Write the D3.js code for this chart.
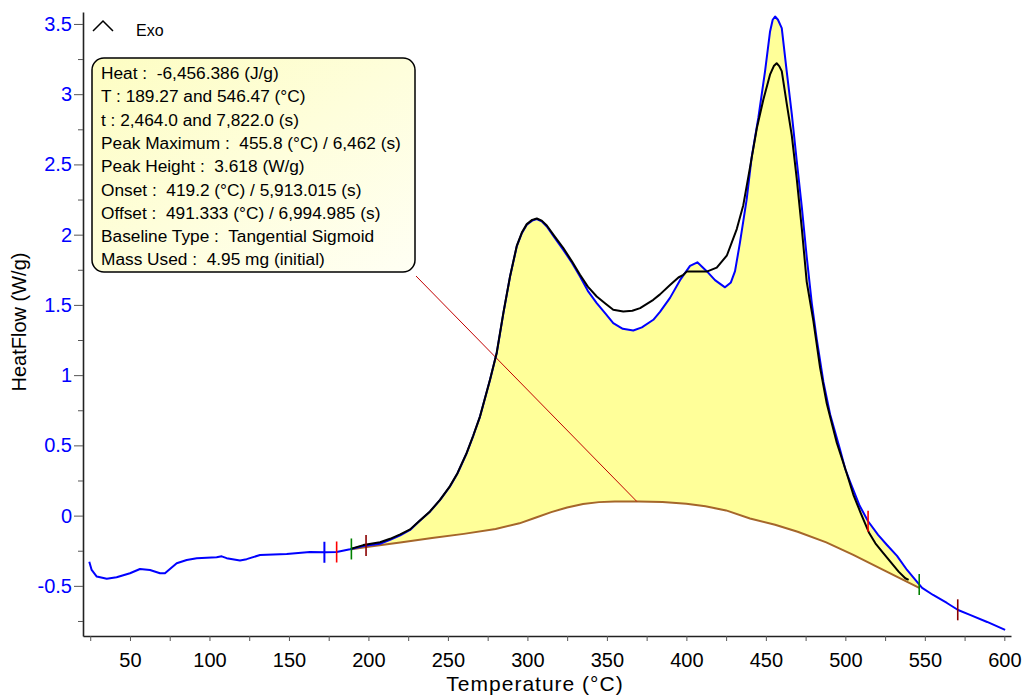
<!DOCTYPE html>
<html>
<head>
<meta charset="utf-8">
<script src="https://cdn.jsdelivr.net/npm/d3@7"></script>
<style>
  html, body { margin: 0; padding: 0; background: #ffffff; }
  svg { display: block; font-family: "Liberation Sans", Arial, sans-serif; }
</style>
</head>
<body>
<svg id="chart" width="1023" height="695"></svg>
<script>
// Measured heat flow (W/g) against temperature (°C)
const heatFlow = [
  [24.4,-0.328],[25.9,-0.387],[29.1,-0.434],[35.4,-0.449],[41.6,-0.439],[50,-0.41],
  [56.3,-0.38],[62.6,-0.387],[68.9,-0.41],[72,-0.41],[79.4,-0.339],[85.7,-0.316],
  [92,-0.303],[104.5,-0.296],[107.7,-0.29],[110.8,-0.303],[119.2,-0.32],[123.4,-0.31],
  [131.8,-0.28],[148.6,-0.273],[163.2,-0.259],[172.7,-0.261],[180,-0.259],[188.4,-0.24],
  [196.8,-0.216],[207.3,-0.2],[213.6,-0.173],[220,-0.14],[226.2,-0.102],[232,-0.04],
  [238.7,0.028],[245,0.11],[251.3,0.207],[256,0.3],[261.8,0.444],[266,0.57],[270.2,0.705],
  [276.5,0.967],[280.7,1.157],[284.9,1.442],[289.1,1.702],[293.3,1.916],[296.5,2.01],
  [299.6,2.071],[303,2.1],[305.9,2.111],[309,2.095],[312.2,2.058],[317,1.98],[322.6,1.892],
  [328,1.8],[333.1,1.702],[338,1.6],[343.6,1.513],[349,1.44],[354,1.37],[360,1.33],
  [366.6,1.318],[372,1.34],[379.2,1.394],[383.4,1.45],[389.7,1.55],[396,1.676],[402.3,1.778],
  [406.9,1.803],[412.8,1.74],[418,1.676],[424.3,1.625],[428,1.66],[430.6,1.74],[433.7,1.943],
  [437.9,2.249],[441.1,2.554],[445.3,2.834],[449.5,3.164],[452.6,3.444],[454.3,3.53],
  [455.8,3.553],[457.6,3.53],[460,3.47],[463.1,3.164],[466.3,2.859],[469.4,2.528],
  [472.6,2.198],[475.7,1.842],[478.9,1.511],[482,1.256],[486.2,0.951],[490.4,0.722],
  [496.7,0.468],[500,0.33],[503,0.24],[509,0.07],[514.3,-0.04],[520.6,-0.137],[526.2,-0.209],
  [532.5,-0.287],[538.8,-0.387],[545.1,-0.472],[548.3,-0.515],[555.2,-0.565],[563.9,-0.622],
  [570.9,-0.672],[578.4,-0.707],[589.2,-0.757],[600.5,-0.814]
];

// Second recorded signal over the integration window
const fittedSignal = [
  [189.3,-0.235],[196.8,-0.21],[207.3,-0.19],[213.6,-0.165],[220,-0.133],[226.2,-0.098],
  [232,-0.038],[238.7,0.03],[245,0.112],[251.3,0.21],[256,0.302],[261.8,0.446],[266,0.572],
  [270.2,0.707],[276.5,0.969],[280.7,1.16],[284.9,1.445],[289.1,1.705],[293.3,1.92],
  [296.5,2.015],[299.6,2.075],[303,2.105],[305.9,2.115],[309,2.1],[312.2,2.065],[317,1.99],
  [322.6,1.905],[328,1.81],[333.1,1.715],[338,1.63],[343.6,1.56],[349,1.51],[354,1.465],
  [360.3,1.453],[366,1.458],[370.9,1.477],[379.2,1.536],[383.4,1.575],[389.7,1.641],
  [395,1.695],[398.1,1.714],[400.2,1.737],[412.8,1.737],[419.1,1.765],[425.4,1.85],
  [431.7,2.04],[435.8,2.21],[440,2.477],[444.3,2.757],[448.4,2.961],[452.6,3.139],
  [455,3.2],[456.8,3.22],[458.4,3.2],[460,3.164],[463.1,2.935],[466.3,2.707],[469.4,2.401],
  [472.6,2.045],[475.7,1.664],[479.9,1.384],[484.1,1.053],[488.3,0.798],[494.6,0.519],
  [500.9,0.3],[505,0.15],[509.6,0.02],[514.8,-0.12],[518.9,-0.197],[523.1,-0.256],
  [528.3,-0.328],[533.5,-0.399],[537.7,-0.446],[539.8,-0.458]
];

// Tangential sigmoid baseline between the integration limits
const sigmoidBaseline = [
  [189.27,-0.24],[200,-0.222],[220,-0.192],[240,-0.16],[260,-0.13],[280,-0.095],
  [295,-0.055],[305,-0.015],[315,0.025],[325,0.058],[335,0.082],[345,0.096],[355,0.101],
  [370,0.101],[385,0.097],[400,0.085],[412,0.066],[425,0.037],[440,-0.02],[455.8,-0.065],
  [470,-0.115],[488,-0.19],[505,-0.28],[526,-0.399],[546.47,-0.515]
];

const integrationLimits = [189.27, 546.47];
const leaderTemp = 368.8;

// Analysis markers along the measured curve
const markerTemps = [172.3, 180, 189.27, 198.5, 514.3, 546.47, 570.7];
const markerKinds = ["range", "tangent", "limit", "fit", "tangent", "limit", "fit"];

const xTickValues = [50,100,150,200,250,300,350,400,450,500,550,600];
const xMinorValues = [25,75,125,175,225,275,325,375,425,475,525,575];
const yTickValues = [-0.5,0,0.5,1,1.5,2,2.5,3,3.5];
const yMinorValues = [-0.75,-0.25,0.25,0.75,1.25,1.75,2.25,2.75,3.25];

const resultLines = [
  "Heat :  -6,456.386 (J/g)",
  "T : 189.27 and 546.47 (°C)",
  "t : 2,464.0 and 7,822.0 (s)",
  "Peak Maximum :  455.8 (°C) / 6,462 (s)",
  "Peak Height :  3.618 (W/g)",
  "Onset :  419.2 (°C) / 5,913.015 (s)",
  "Offset :  491.333 (°C) / 6,994.985 (s)",
  "Baseline Type :  Tangential Sigmoid",
  "Mass Used :  4.95 mg (initial)"
];

const markerColor = d3.scaleOrdinal()
  .domain(["range", "tangent", "limit", "fit"])
  .range(["#0000ff", "#ff0000", "#008000", "#8b0000"]);

const svg = d3.select("#chart");

const x = d3.scaleLinear().domain([20.45, 604.2]).range([83, 1011]);
const y = d3.scaleLinear().domain([-0.857, 3.585]).range([636, 12]);

// linear lookup of the measured curve
function heatAt(t) {
  const i = d3.bisector(d => d[0]).left(heatFlow, t);
  if (i <= 0) return heatFlow[0][1];
  if (i >= heatFlow.length) return heatFlow[heatFlow.length - 1][1];
  const a = heatFlow[i - 1], b = heatFlow[i];
  return a[1] + (b[1] - a[1]) * (t - a[0]) / (b[0] - a[0]);
}

const line = d3.line().x(d => x(d[0])).y(d => y(d[1]));

// Integrated area between measured curve and baseline
const [t0, t1] = integrationLimits;
const upper = [[t0, heatAt(t0)]]
  .concat(heatFlow.filter(d => d[0] > t0 && d[0] < t1))
  .concat([[t1, heatAt(t1)]]);
const lower = sigmoidBaseline.slice().reverse();
svg.append("path")
  .attr("d", line(upper.concat(lower)) + "Z")
  .attr("fill", "#ffff99")
  .attr("stroke", "none");

svg.append("path")
  .attr("d", line(sigmoidBaseline))
  .attr("fill", "none")
  .attr("stroke", "#a5662a")
  .attr("stroke-width", 2);

// Axes
const fontFamily = "Liberation Sans, Arial, sans-serif";
const xAxisG = svg.append("g").attr("transform", "translate(0,636)");
xAxisG.call(d3.axisBottom(x).tickValues(xMinorValues).tickSize(5).tickFormat("").tickSizeOuter(0));
const xMajor = svg.append("g").attr("transform", "translate(0,636)")
  .call(d3.axisBottom(x).tickValues(xTickValues).tickSize(5).tickSizeOuter(0));
xMajor.select(".domain").remove();
xAxisG.select(".domain").attr("stroke", "#222").attr("stroke-width", 1.6);
xMajor.selectAll("text")
  .attr("font-size", 20).attr("fill", "#000").attr("font-family", fontFamily)
  .attr("y", 31).attr("dy", null);

const yAxisG = svg.append("g").attr("transform", "translate(83,0)");
yAxisG.call(d3.axisLeft(y).tickValues(yMinorValues).tickSize(5).tickFormat("").tickSizeOuter(0));
const yMajor = svg.append("g").attr("transform", "translate(83,0)")
  .call(d3.axisLeft(y).tickValues(yTickValues).tickSize(9).tickPadding(2).tickSizeOuter(0)
    .tickFormat(d => String(d)));
yMajor.select(".domain").remove();
yAxisG.select(".domain").attr("stroke", "#222").attr("stroke-width", 1.6);
yMajor.selectAll("text")
  .attr("font-size", 20).attr("fill", "#0000ff").attr("font-family", fontFamily);
svg.selectAll("g.tick line").attr("stroke", "#555");

svg.append("text")
  .attr("x", 535).attr("y", 691)
  .attr("text-anchor", "middle")
  .attr("font-size", 21)
  .attr("letter-spacing", 1)
  .text("Temperature (°C)");

svg.append("text")
  .attr("transform", "translate(26,322) rotate(-90)")
  .attr("text-anchor", "middle")
  .attr("font-size", 20)
  .text("HeatFlow (W/g)");

// Exothermic direction indicator
svg.append("path")
  .attr("d", "M93,31 L103,21 L113,31")
  .attr("fill", "none").attr("stroke", "#000").attr("stroke-width", 1.5);
svg.append("text").attr("x", 136).attr("y", 36).attr("font-size", 16).text("Exo");

// Result box
const defs = svg.append("defs");
const grad = defs.append("linearGradient").attr("id", "boxFill")
  .attr("x1", 0).attr("y1", 0).attr("x2", 1).attr("y2", 1);
grad.append("stop").attr("offset", "0%").attr("stop-color", "#fdfdc2");
grad.append("stop").attr("offset", "100%").attr("stop-color", "#fffff4");

svg.append("rect")
  .attr("x", 92).attr("y", 58).attr("width", 323).attr("height", 214)
  .attr("rx", 12).attr("ry", 12)
  .attr("fill", "url(#boxFill)").attr("stroke", "#000").attr("stroke-width", 1.5);

svg.append("g").selectAll("text").data(resultLines).join("text")
  .attr("x", 101)
  .attr("y", (d, i) => 79 + i * 23.3)
  .attr("font-size", 17.3)
  .attr("xml:space", "preserve")
  .style("white-space", "pre")
  .text(d => d);

// Leader from the result box to the baseline
svg.append("line")
  .attr("x1", 416).attr("y1", 276)
  .attr("x2", x(leaderTemp))
  .attr("y2", y(d3.max(sigmoidBaseline, d => d[1])))
  .attr("stroke", "#c00000").attr("stroke-width", 1);

// Signals
svg.append("path")
  .attr("d", line(heatFlow))
  .attr("fill", "none").attr("stroke", "#0000ff").attr("stroke-width", 2)
  .attr("stroke-linejoin", "round");
svg.append("path")
  .attr("d", line(fittedSignal))
  .attr("fill", "none").attr("stroke", "#000").attr("stroke-width", 2)
  .attr("stroke-linejoin", "round");

// Vertical analysis markers
svg.append("g").selectAll("line").data(markerTemps).join("line")
  .attr("x1", d => x(d)).attr("x2", d => x(d))
  .attr("y1", d => y(heatAt(d)) - 10.5)
  .attr("y2", d => y(heatAt(d)) + 10.5)
  .attr("stroke", (d, i) => markerColor(markerKinds[i]))
  .attr("stroke-width", (d, i) => markerKinds[i] === "range" ? 2 : 1.6);
</script>
</body>
</html>
